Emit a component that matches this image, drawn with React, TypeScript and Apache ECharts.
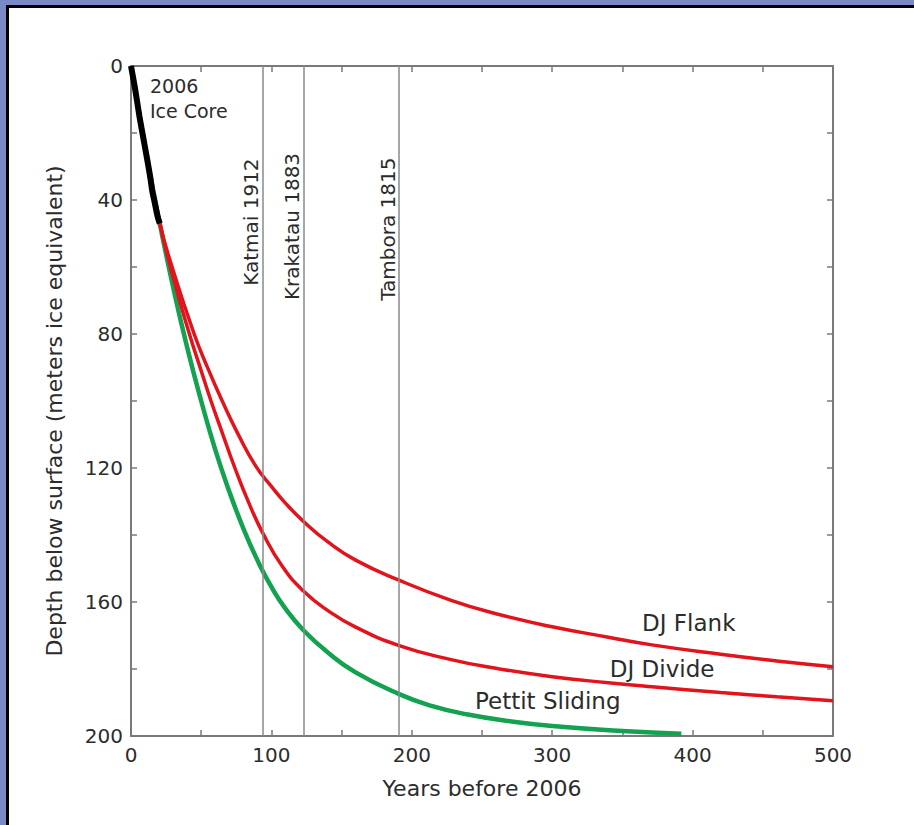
import React, { useEffect, useRef } from "react";
import * as echarts from "echarts";

// ---- data (years before 2006, depth in meters ice equivalent) ----
const xTickLabels = [0, 100, 200, 300, 400, 500];
const yTickLabels = [0, 40, 80, 120, 160, 200];

const iceCore: [number, number][] = [
  [0, 0], [3, 7], [6, 15], [9, 22], [12, 29], [14, 34], [15, 37], [17, 41], [19, 45], [20.5, 47],
];

const djFlank: [number, number][] = [
  [0, 0], [10, 24], [20, 46], [30, 61], [45, 80], [55, 90.5], [65, 100], [77, 110.5], [89, 119.5],
  [100, 125.5], [110, 130.5], [123, 136], [140, 142], [160, 147.5], [191, 153.5], [228, 159.5],
  [260, 163.5], [300, 167.4], [340, 170.5], [371, 172.8], [420, 175.6], [460, 177.6], [500, 179.3],
];

const djDivide: [number, number][] = [
  [0, 0], [10, 24], [20, 46], [30, 63], [41.6, 80], [50, 91], [57, 100], [65, 109.5], [74, 120],
  [84, 130.5], [94, 139.5], [108, 149.5], [123, 156.8], [140, 162.5], [160, 167.5], [191, 173],
  [228, 177.2], [260, 179.8], [300, 182.3], [340, 184.1], [371, 185.3], [420, 187], [460, 188.3], [500, 189.5],
];

const pettitSliding: [number, number][] = [
  [0, 0], [10, 24], [20, 46], [30, 66], [40, 84], [50, 100], [60, 114.5], [70, 127], [80, 138],
  [90, 147.5], [100, 155.5], [110, 162], [123, 168.5], [140, 175], [160, 181], [191, 187.5],
  [214, 191], [240, 193.6], [270, 195.6], [300, 197], [350, 198.5], [392, 199.3],
];

const eruptionNames = ["Katmai 1912", "Krakatau 1883", "Tambora 1815"];
const eruptionYears = [94, 123, 191];
const eruptionLabelDepth = [46.6, 47.9, 48.7];

const curveLabelNames = ["DJ Flank", "DJ Divide", "Pettit Sliding"];
const curveLabelAt: [number, number][] = [[364, 166.3], [341, 180], [245, 189.6]];

const iceCoreLabel = "2006\nIce Core";
const iceCoreLabelAt: [number, number] = [13.5, 2.1];

const FONT = '"DejaVu Sans", "Liberation Sans", sans-serif';
const TEXT = "#2c2c2c";
const AXIS = "#7a7a7a";

export default function App() {
  const ref = useRef<HTMLDivElement>(null);

  useEffect(() => {
    if (!ref.current) return;
    const chart = echarts.init(ref.current, undefined, { renderer: "svg" });

    const axisLine = { show: true, onZero: false, lineStyle: { color: AXIS, width: 2 } };
    const axisTick = { show: true, inside: true, length: 6, lineStyle: { color: AXIS, width: 1.5 } };

    chart.setOption({
      animation: false,
      backgroundColor: "transparent",
      grid: { left: 131, right: 81, top: 66, bottom: 89, containLabel: false },
      xAxis: [
        {
          type: "value", min: 0, max: 500, interval: 50, position: "bottom",
          axisLine, axisTick, splitLine: { show: false },
          axisLabel: {
            formatter: (v: number) => (xTickLabels.includes(v) ? String(v) : ""),
            color: TEXT, fontSize: 20, fontFamily: FONT, margin: 9,
          },
          name: "Years before 2006", nameLocation: "middle", nameGap: 41,
          nameTextStyle: { color: TEXT, fontSize: 22, fontFamily: FONT },
        },
        {
          type: "value", min: 0, max: 500, interval: 50, position: "top",
          axisLine, axisTick, splitLine: { show: false }, axisLabel: { show: false },
        },
      ],
      yAxis: [
        {
          type: "value", inverse: true, min: 0, max: 200, interval: 20, position: "left",
          axisLine, axisTick, splitLine: { show: false },
          axisLabel: {
            formatter: (v: number) => (yTickLabels.includes(v) ? String(v) : ""),
            color: TEXT, fontSize: 20, fontFamily: FONT, margin: 8,
          },
          name: "Depth below surface (meters ice equivalent)", nameLocation: "middle", nameGap: 66,
          nameRotate: 90,
          nameTextStyle: { color: TEXT, fontSize: 22, fontFamily: FONT, padding: [0, 20, 0, 0] },
        },
        {
          type: "value", inverse: true, min: 0, max: 200, interval: 20, position: "right",
          axisLine, axisTick, splitLine: { show: false }, axisLabel: { show: false },
        },
      ],
      series: [
        {
          type: "line", name: "Pettit Sliding", data: pettitSliding, xAxisIndex: 0, yAxisIndex: 0,
          smooth: 0.5, symbol: "none", z: 2,
          lineStyle: { color: "#13a24f", width: 4.5 },
          markLine: {
            silent: true, symbol: ["none", "none"], label: { show: false },
            lineStyle: { color: "#8a8a8a", width: 1.5, type: "solid" },
            data: eruptionYears.map((y) => ({ xAxis: y })),
          },
        },
        {
          type: "line", name: "DJ Divide", data: djDivide, xAxisIndex: 0, yAxisIndex: 0,
          smooth: 0.5, symbol: "none", z: 3,
          lineStyle: { color: "#e3131c", width: 3.5 },
        },
        {
          type: "line", name: "DJ Flank", data: djFlank, xAxisIndex: 0, yAxisIndex: 0,
          smooth: 0.5, symbol: "none", z: 3,
          lineStyle: { color: "#e3131c", width: 3.5 },
        },
        {
          type: "line", name: "2006 Ice Core", data: iceCore, xAxisIndex: 0, yAxisIndex: 0,
          smooth: 0.3, symbol: "none", z: 5,
          lineStyle: { color: "#000000", width: 6 },
        },
      ],
    });

    const toPx = (p: [number, number]) =>
      chart.convertToPixel({ xAxisIndex: 0, yAxisIndex: 0 }, p) as number[];

    const graphics: any[] = [];
    eruptionNames.forEach((name, i) => {
      const p = toPx([eruptionYears[i], eruptionLabelDepth[i]]);
      graphics.push({
        type: "text", x: p[0] - 11.5, y: p[1], rotation: Math.PI / 2, silent: true,
        style: { text: name, fontSize: 20, fontFamily: FONT, fill: TEXT, align: "center", verticalAlign: "middle" },
      });
    });
    curveLabelNames.forEach((name, i) => {
      const p = toPx(curveLabelAt[i]);
      graphics.push({
        type: "text", x: p[0], y: p[1], silent: true,
        style: { text: name, fontSize: 23, fontFamily: FONT, fill: TEXT, align: "left", verticalAlign: "middle" },
      });
    });
    const ic = toPx(iceCoreLabelAt);
    graphics.push({
      type: "text", x: ic[0], y: ic[1], silent: true,
      style: { text: iceCoreLabel, fontSize: 19, lineHeight: 25, fontFamily: FONT, fill: TEXT, align: "left", verticalAlign: "top" },
    });
    chart.setOption({ graphic: graphics });

    return () => chart.dispose();
  }, []);

  return (
    <div style={{ position: "fixed", left: 0, top: 0, width: 914, height: 825, background: "#7b89c5", overflow: "hidden" }}>
      <div
        style={{
          position: "absolute", left: 6, top: 5, width: 930, height: 840, background: "#ffffff",
          borderLeft: "3px solid #000", borderTop: "3px solid #000", boxSizing: "border-box",
        }}
      />
      <div ref={ref} style={{ position: "absolute", left: 0, top: 0, width: 914, height: 825 }} />
    </div>
  );
}
